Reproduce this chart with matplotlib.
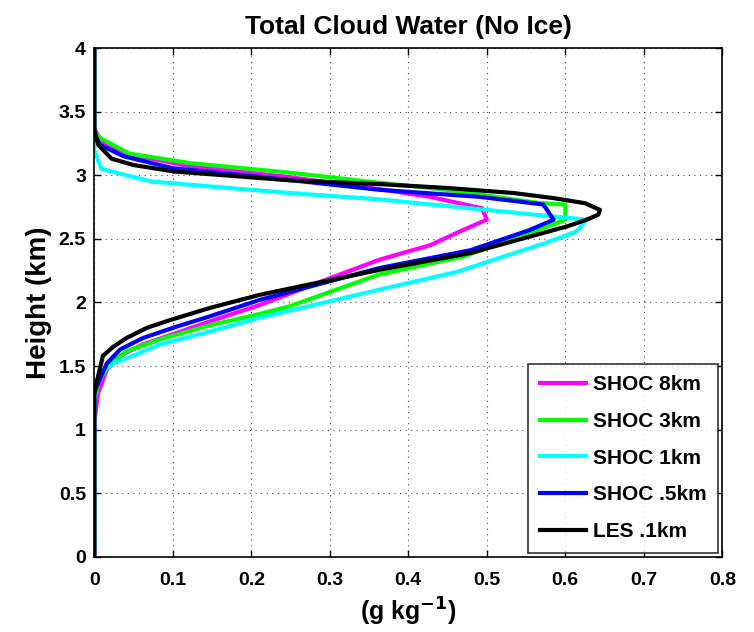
import matplotlib
matplotlib.use('Agg')
import matplotlib.pyplot as plt

plt.rcParams['font.family'] = ['Liberation Sans', 'DejaVu Sans']
plt.rcParams['font.weight'] = 'bold'
plt.rcParams['mathtext.default'] = 'bf'

# cloud water profiles (g/kg) vs height (km)
shoc8_q = [0, 0, 0.005, 0.016, 0.033, 0.062, 0.105, 0.147, 0.211, 0.30, 0.363, 0.428, 0.47, 0.50, 0.494, 0.428, 0.364, 0.249, 0.122, 0.041, 0.011, 0.003, 0, 0]
shoc8_z = [0, 1.05, 1.29, 1.47, 1.58, 1.67, 1.76, 1.85, 1.98, 2.19, 2.335, 2.45, 2.57, 2.65, 2.74, 2.83, 2.89, 2.985, 3.07, 3.17, 3.26, 3.33, 3.38, 4]

shoc3_q = [0, 0, 0.005, 0.02, 0.041, 0.084, 0.147, 0.211, 0.249, 0.363, 0.47, 0.555, 0.60, 0.60, 0.568, 0.449, 0.364, 0.249, 0.122, 0.045, 0.011, 0, 0]
shoc3_z = [0, 1.2, 1.37, 1.52, 1.615, 1.71, 1.82, 1.91, 1.97, 2.22, 2.36, 2.545, 2.65, 2.77, 2.78, 2.885, 2.94, 3.02, 3.095, 3.17, 3.28, 3.33, 4]

shoc1_q = [0, 0, 0.005, 0.024, 0.041, 0.084, 0.147, 0.211, 0.363, 0.462, 0.576, 0.615, 0.627, 0.363, 0.249, 0.073, 0.009, 0, 0]
shoc1_z = [0, 1.25, 1.42, 1.52, 1.56, 1.67, 1.77, 1.88, 2.10, 2.24, 2.47, 2.56, 2.65, 2.81, 2.86, 2.95, 3.05, 3.2, 4]

shoc05_q = [0, 0, 0.003, 0.016, 0.033, 0.062, 0.105, 0.147, 0.211, 0.363, 0.479, 0.555, 0.585, 0.572, 0.491, 0.364, 0.207, 0.10, 0.037, 0.007, 0, 0]
shoc05_z = [0, 1.28, 1.34, 1.52, 1.63, 1.72, 1.81, 1.89, 2.02, 2.27, 2.41, 2.57, 2.65, 2.77, 2.83, 2.885, 2.99, 3.055, 3.15, 3.24, 3.33, 4]

les_q = [0, 0, 0.011, 0.024, 0.041, 0.067, 0.096, 0.147, 0.211, 0.364, 0.479, 0.555, 0.602, 0.627, 0.642, 0.644, 0.625, 0.585, 0.534, 0.449, 0.364, 0.249, 0.101, 0.05, 0.022, 0.005, 0, 0]
les_z = [0, 1.29, 1.58, 1.65, 1.72, 1.80, 1.86, 1.956, 2.06, 2.257, 2.388, 2.518, 2.597, 2.65, 2.69, 2.728, 2.78, 2.82, 2.86, 2.90, 2.93, 2.96, 3.03, 3.08, 3.13, 3.24, 3.36, 4]

series = [
    ('SHOC 8km', shoc8_q, shoc8_z, '#ff00ff'),
    ('SHOC 3km', shoc3_q, shoc3_z, '#00ff00'),
    ('SHOC 1km', shoc1_q, shoc1_z, '#00ffff'),
    ('SHOC .5km', shoc05_q, shoc05_z, '#0000ff'),
    ('LES .1km', les_q, les_z, '#000000'),
]

fig = plt.figure(figsize=(7.54, 6.32), dpi=100, facecolor='white')
ax = fig.add_axes([0.125, 0.119, 0.833, 0.805])

for name, q, z, c in series:
    ax.plot(q, z, color=c, lw=3.0, label=name)

ax.set_xlim(0, 0.8)
ax.set_ylim(0, 4)
ax.set_xticks([0, 0.1, 0.2, 0.3, 0.4, 0.5, 0.6, 0.7, 0.8])
ax.set_xticklabels(['0', '0.1', '0.2', '0.3', '0.4', '0.5', '0.6', '0.7', '0.8'])
ax.set_yticks([0, 0.5, 1, 1.5, 2, 2.5, 3, 3.5, 4])
ax.set_yticklabels(['0', '0.5', '1', '1.5', '2', '2.5', '3', '3.5', '4'])
ax.tick_params(direction='in', top=True, right=True, length=5, width=1,
               labelsize=14)
ax.tick_params(axis='x', pad=11)
ax.tick_params(axis='y', pad=6)
ax.grid(True, linestyle=(0, (1, 4)), color='black', lw=0.8, alpha=0.7)
for s in ax.spines.values():
    s.set_linewidth(1.2)

ax.set_title('Total Cloud Water (No Ice)', fontsize=19, fontweight='bold', pad=10)
ax.set_ylabel('Height (km)', fontsize=20, fontweight='bold', labelpad=5)
ax.set_xlabel(r'(g kg$^{-1}$)', fontsize=18, fontweight='bold', labelpad=5)

leg = ax.legend(loc='lower right', fontsize=15, frameon=True, fancybox=False,
                edgecolor='black', handlelength=2.2, handletextpad=0.35,
                labelspacing=0.85, borderaxespad=0.2, borderpad=0.55)
leg.get_frame().set_linewidth(1.2)

fig.savefig('out.png', dpi=100, facecolor='white')
